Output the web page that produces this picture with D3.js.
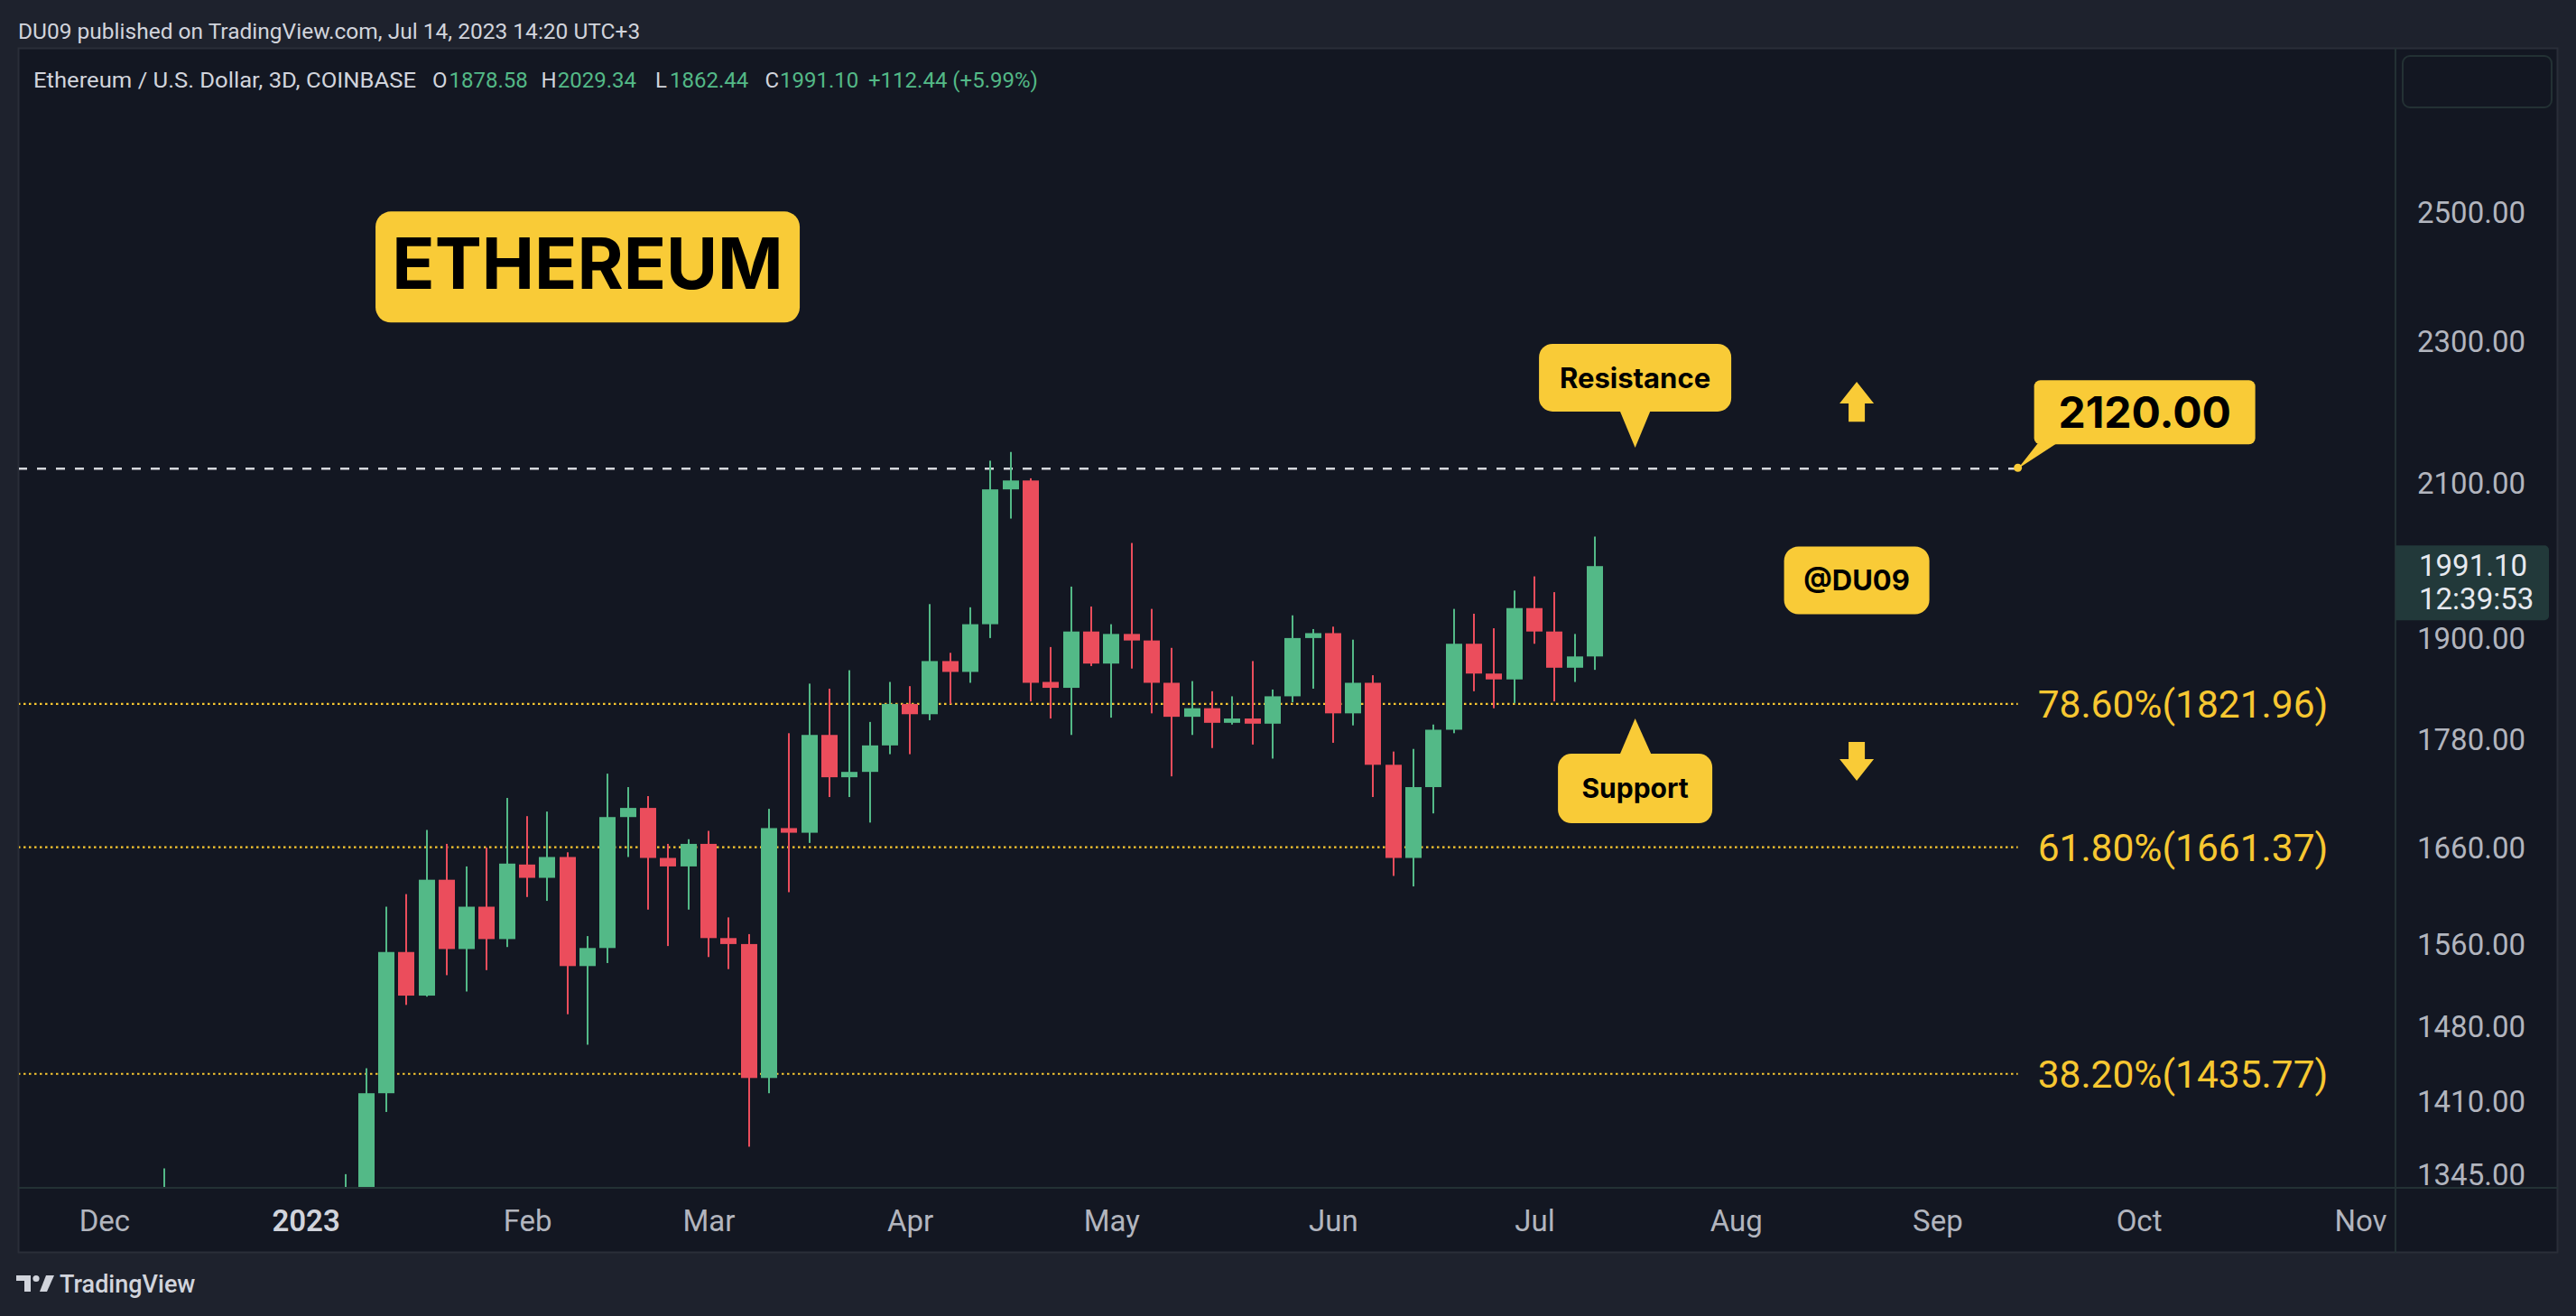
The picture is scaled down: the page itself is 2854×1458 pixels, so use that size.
<!DOCTYPE html>
<html>
<head>
<meta charset="utf-8">
<script src="https://cdn.jsdelivr.net/npm/d3@7"></script>
<style>
html,body{margin:0;padding:0;background:#1e222d;}
svg{display:block;}
</style>
</head>
<body>
<svg id="chart" width="2854" height="1458"></svg>
<script>
// ---------------- DATA ----------------
const dates = [
  "2022-12-11",
  "2023-01-07","2023-01-10","2023-01-13","2023-01-16","2023-01-19","2023-01-22","2023-01-25","2023-01-28","2023-01-31",
  "2023-02-03","2023-02-06","2023-02-09","2023-02-12","2023-02-15","2023-02-18","2023-02-21","2023-02-24","2023-02-27",
  "2023-03-02","2023-03-05","2023-03-08","2023-03-11","2023-03-14","2023-03-17","2023-03-20","2023-03-23","2023-03-26","2023-03-29",
  "2023-04-01","2023-04-04","2023-04-07","2023-04-10","2023-04-13","2023-04-16","2023-04-19","2023-04-22","2023-04-25","2023-04-28",
  "2023-05-01","2023-05-04","2023-05-07","2023-05-10","2023-05-13","2023-05-16","2023-05-19","2023-05-22","2023-05-25","2023-05-28","2023-05-31",
  "2023-06-03","2023-06-06","2023-06-09","2023-06-12","2023-06-15","2023-06-18","2023-06-21","2023-06-24","2023-06-27","2023-06-30",
  "2023-07-03","2023-07-06","2023-07-09","2023-07-12"
];
const opens = [
  1265,
  1262,1325,1418,1553,1510,1627,1556,1599,1566,
  1643,1629,1651,1539,1557,1694,1704,1650,1641,
  1665,1567,1561,1432,1682,1677,1786,1738,1744,1774,
  1822,1810,1873,1860,1918,2092,2104,1848,1841,1909,
  1870,1906,1898,1847,1807,1817,1800,1805,1799,1831,1901,
  1907,1811,1847,1752,1650,1727,1792,1894,1858,1851,
  1938,1909,1865,1878.58
];
const highs = [
  1351,
  1346,1441,1599,1612,1680,1665,1641,1661,1715,
  1695,1700,1656,1569,1742,1727,1717,1665,1670,
  1679,1588,1571,1703,1788,1846,1840,1862,1801,1848,
  1843,1943,1883,1939,2131,2143,2107,1890,1965,1940,
  1918,2021,1937,1889,1849,1837,1831,1873,1839,1929,1912,
  1915,1899,1856,1767,1770,1798,1937,1931,1913,1960,
  1978,1958,1906,2029.34
];
const lows = [
  1258,
  1258,1318,1401,1501,1509,1530,1514,1535,1558,
  1609,1605,1492,1463,1542,1651,1596,1559,1596,
  1548,1536,1370,1418,1614,1666,1716,1716,1688,1764,
  1764,1803,1822,1847,1901,2053,1825,1805,1786,1867,
  1806,1864,1811,1739,1786,1771,1798,1775,1759,1824,1840,
  1777,1797,1716,1631,1620,1698,1788,1837,1817,1823,
  1894,1825,1848,1862.44
];
const closes = [
  1320,
  1325,1418,1553,1510,1627,1556,1599,1566,1644,
  1629,1651,1539,1557,1694,1704,1650,1641,1665,
  1567,1561,1432,1682,1677,1786,1738,1744,1774,1822,
  1810,1873,1860,1918,2092,2104,1847,1841,1909,1870,
  1906,1898,1847,1807,1817,1800,1805,1799,1831,1901,1907,
  1811,1847,1752,1650,1727,1792,1894,1858,1851,1938,
  1909,1865,1878.58,1991.10
];

const priceTicks = [2500, 2300, 2100, 1900, 1780, 1660, 1560, 1480, 1410, 1345];
const monthTickDates = ["2022-12-02","2023-01-01","2023-02-03","2023-03-02","2023-04-01","2023-05-01",
                        "2023-06-03","2023-07-03","2023-08-02","2023-09-01","2023-10-01","2023-11-03"];
const monthTickLabels = ["Dec","2023","Feb","Mar","Apr","May","Jun","Jul","Aug","Sep","Oct","Nov"];

const fibRatios = [0.786, 0.618, 0.382];
const fibPrices = [1821.96, 1661.37, 1435.77];
const fibEndDate = "2023-09-13";

const resistancePrice = 2120.00;
const lastPrice = 1991.10;
const countdown = "12:39:53";
const changeText = "+112.44 (+5.99%)";

const headerText = "DU09 published on TradingView.com, Jul 14, 2023 14:20 UTC+3";
const symbolText = "Ethereum / U.S. Dollar, 3D, COINBASE";

const titleLabel = {text: "ETHEREUM", date: "2023-02-12", price: 2414};
const resistanceNote = {text: "Resistance", date: "2023-07-18", price: 2149};
const supportNote = {text: "Support", date: "2023-07-18", price: 1805};
const authorNote = {text: "@DU09", date: "2023-08-20", price: 1973};
const upArrow = {date: "2023-08-20", tip: 2242, base: 2185};
const downArrow = {date: "2023-08-20", top: 1778, tip: 1734};

// ---------------- LAYOUT ----------------
const W = 2854, H = 1458;
const plot = {left: 20, right: 2654, top: 53, bottom: 1316};
const paneRight = 2834, paneBottom = 1388;
const C = {
  page: "#1e222d", pane: "#131722", border: "#2a2e39",
  up: "#53b987", down: "#eb4d5c", text: "#d1d4dc", axis: "#b2b5be",
  yellow: "#f9cb37", fib: "#f7c731", dash: "#d5d7dc"
};
const parse = s => new Date(s + "T00:00:00Z");

const x = d3.scaleUtc()
  .domain([parse("2023-01-01"), parse("2023-07-03")])
  .range([338.6, 1700]);
const y = d3.scaleLog()
  .domain([1334.2, 2780])
  .range([plot.bottom, plot.top]);

const bars = dates.map((d, i) => ({date: parse(d), o: opens[i], h: highs[i], l: lows[i], c: closes[i]}));

const svg = d3.select("#chart");
svg.append("rect").attr("width", W).attr("height", H).attr("fill", C.page);
svg.append("rect").attr("x", plot.left + 0.5).attr("y", plot.top + 0.5)
  .attr("width", paneRight - plot.left - 1).attr("height", paneBottom - plot.top - 1)
  .attr("fill", C.pane).attr("stroke", C.border).attr("stroke-width", 2);
svg.append("line").attr("x1", plot.right).attr("x2", plot.right).attr("y1", plot.top).attr("y2", paneBottom)
  .attr("stroke", "#233134").attr("stroke-width", 2);
svg.append("line").attr("x1", plot.left).attr("x2", paneRight).attr("y1", plot.bottom).attr("y2", plot.bottom)
  .attr("stroke", "#233134").attr("stroke-width", 2);

// header
svg.append("text").attr("x", 20).attr("y", 43).attr("fill", C.text)
  .attr("font-family", "Roboto, sans-serif").attr("font-size", 24.5).text(headerText);

// legend
const last = bars[bars.length - 1];
svg.append("text").attr("x", 37).attr("y", 97).attr("fill", C.text)
  .attr("font-family", "Roboto, sans-serif").attr("font-size", 24)
  .attr("textLength", 424).attr("lengthAdjust", "spacingAndGlyphs").text(symbolText);
const legendParts = [
  ["O", C.text, 479], [last.o.toFixed(2), C.up, 497.5],
  ["H", C.text, 599.5], [last.h.toFixed(2), C.up, 617.7],
  ["L", C.text, 726], [last.l.toFixed(2), C.up, 742],
  ["C", C.text, 847.4], [last.c.toFixed(2), C.up, 864],
  [changeText, C.up, 962]
];
const legend = svg.append("text").attr("y", 97).attr("font-family", "Roboto, sans-serif").attr("font-size", 24);
legendParts.forEach(p => legend.append("tspan").attr("x", p[2]).attr("fill", p[1]).text(p[0]));

// clip
svg.append("clipPath").attr("id", "plotClip").append("rect")
  .attr("x", plot.left + 1).attr("y", plot.top + 1)
  .attr("width", plot.right - plot.left - 2).attr("height", plot.bottom - plot.top - 2);
const g = svg.append("g").attr("clip-path", "url(#plotClip)");

// fib lines
const fibEndX = x(parse(fibEndDate));
fibPrices.forEach((p, i) => {
  g.append("line").attr("x1", plot.left).attr("x2", fibEndX)
    .attr("y1", y(p)).attr("y2", y(p))
    .attr("stroke", C.fib).attr("stroke-width", 2.2).attr("stroke-dasharray", "2.5,3.5");
  g.append("text").attr("x", fibEndX + 22).attr("y", y(p)).attr("dy", "0.36em")
    .attr("fill", C.fib).attr("font-family", "Roboto, sans-serif").attr("font-size", 42.5)
    .text(`${(fibRatios[i] * 100).toFixed(2)}%(${p.toFixed(2)})`);
});

// resistance dashed line
g.append("line").attr("x1", plot.left).attr("x2", fibEndX)
  .attr("y1", y(resistancePrice)).attr("y2", y(resistancePrice))
  .attr("stroke", C.dash).attr("stroke-width", 2.6).attr("stroke-dasharray", "10,11");

// candles
const cg = g.append("g");
bars.forEach(b => {
  const cx = Math.round(x(b.date));
  const col = b.c >= b.o ? C.up : C.down;
  const yh = y(b.h), yl = y(b.l);
  cg.append("rect").attr("x", cx - 1).attr("y", yh).attr("width", 2).attr("height", Math.max(1, yl - yh)).attr("fill", col);
  const yt = y(Math.max(b.o, b.c)), yb = y(Math.min(b.o, b.c));
  cg.append("rect").attr("x", cx - 9).attr("y", yt).attr("width", 18).attr("height", Math.max(2, yb - yt)).attr("fill", col);
});

// ---- annotations ----
const capInter = 0.727;
function box(cx, cy, w, h, r) {
  g.append("rect").attr("x", cx - w / 2).attr("y", cy - h / 2).attr("width", w).attr("height", h)
    .attr("rx", r).attr("fill", C.yellow);
}
function boxText(cx, cy, txt, size) {
  g.append("text").attr("x", cx).attr("y", cy + size * capInter / 2).attr("text-anchor", "middle")
    .attr("font-family", "Inter, sans-serif").attr("font-weight", 700).attr("font-size", size)
    .attr("fill", "#000").text(txt);
}
// title
{
  const cx = x(parse(titleLabel.date)), cy = y(titleLabel.price);
  box(cx, cy, 470, 123, 17);
  boxText(cx, cy - 4, titleLabel.text, 78);
}
// resistance (pointer down)
{
  const tx = x(parse(resistanceNote.date)), ty = y(resistanceNote.price);
  const w = 213, h = 75, cy = ty - 40 - h / 2;
  box(tx, cy, w, h, 15);
  g.append("path").attr("d", `M${tx - 17},${ty - 41} L${tx},${ty} L${tx + 17},${ty - 41} Z`).attr("fill", C.yellow);
  boxText(tx, cy, resistanceNote.text, 31);
}
// support (pointer up)
{
  const tx = x(parse(supportNote.date)), ty = y(supportNote.price);
  const w = 171, h = 77, cy = ty + 39 + h / 2;
  box(tx, cy, w, h, 15);
  g.append("path").attr("d", `M${tx - 17},${ty + 40} L${tx},${ty} L${tx + 18},${ty + 40} Z`).attr("fill", C.yellow);
  boxText(tx, cy, supportNote.text, 30);
}
// author
{
  const cx = x(parse(authorNote.date)), cy = y(authorNote.price);
  box(cx, cy, 161, 75, 16);
  boxText(cx, cy, authorNote.text, 31);
}
// 2120 target callout
{
  const tx = fibEndX, ty = y(resistancePrice);
  const bx = tx + 18, by = ty - 27 - 71, w = 245, h = 71;
  g.append("rect").attr("x", bx).attr("y", by).attr("width", w).attr("height", h).attr("rx", 7).attr("fill", C.yellow);
  g.append("path").attr("d", `M${tx + 22},${ty - 28} L${tx},${ty} L${tx + 43},${ty - 28} Z`).attr("fill", C.yellow);
  g.append("circle").attr("cx", tx).attr("cy", ty - 1).attr("r", 4.5).attr("fill", C.yellow);
  boxText(bx + w / 2, by + h / 2, resistancePrice.toFixed(2), 48);
}
// arrows
{
  const ax = x(parse(upArrow.date));
  const yt = y(upArrow.tip), yb = y(upArrow.base), yh = yt + 24;
  g.append("path").attr("d",
    `M${ax},${yt} L${ax + 19},${yh} L${ax + 9},${yh} L${ax + 9},${yb} L${ax - 9},${yb} L${ax - 9},${yh} L${ax - 19},${yh} Z`)
    .attr("fill", C.yellow);
  const dt = y(downArrow.top), dp = y(downArrow.tip), dh = dp - 24;
  g.append("path").attr("d",
    `M${ax - 9},${dt} L${ax + 9},${dt} L${ax + 9},${dh} L${ax + 19},${dh} L${ax},${dp} L${ax - 19},${dh} L${ax - 9},${dh} Z`)
    .attr("fill", C.yellow);
}

// ---- price axis ----
const yAxis = d3.axisRight(y).tickValues(priceTicks).tickFormat(d => d.toFixed(2)).tickSize(0).tickPadding(0);
const ya = svg.append("g").attr("transform", `translate(2678,0)`).call(yAxis);
ya.select(".domain").remove();
ya.selectAll("text").attr("fill", C.axis).attr("font-family", "Roboto, sans-serif").attr("font-size", 33).attr("x", 0);

// top box in price axis
svg.append("rect").attr("x", 2662).attr("y", 62).attr("width", 165).attr("height", 57).attr("rx", 8)
  .attr("fill", "none").attr("stroke", "#233134").attr("stroke-width", 2);

// current price label
{
  const yp = y(lastPrice);
  svg.append("path").attr("d", `M${plot.right},${yp - 23} H2819 a5,5 0 0 1 5,5 V${yp + 55} a5,5 0 0 1 -5,5 H${plot.right} Z`)
    .attr("fill", "#22393a");
  svg.append("text").attr("x", 2680).attr("y", yp + 11).attr("fill", "#e6e9ef")
    .attr("font-family", "Roboto, sans-serif").attr("font-size", 33).text(lastPrice.toFixed(2));
  svg.append("text").attr("x", 2680).attr("y", yp + 48).attr("fill", "#e6e9ef")
    .attr("font-family", "Roboto, sans-serif").attr("font-size", 33).text(countdown);
}

// ---- time axis ----
const monthDates = monthTickDates.map(parse);
const xAxis = d3.axisBottom(x).tickValues(monthDates).tickFormat((d, i) => monthTickLabels[i]).tickSize(0).tickPadding(25);
const xa = svg.append("g").attr("transform", `translate(0,${plot.bottom})`).call(xAxis);
xa.select(".domain").remove();
xa.selectAll("text").attr("fill", (d, i) => i === 1 ? C.text : C.axis)
  .attr("font-weight", (d, i) => i === 1 ? 600 : 400)
  .attr("font-family", "Roboto, sans-serif").attr("font-size", 33);

// ---- footer logo ----
{
  const lg = svg.append("g").attr("fill", C.text);
  lg.append("path").attr("d", "M18,1413 H34 V1431 H27 V1419 H18 Z");
  lg.append("circle").attr("cx", 40).attr("cy", 1416.5).attr("r", 3.6);
  lg.append("path").attr("d", "M44,1431 L51,1413 H60 L52,1431 Z");
  svg.append("text").attr("x", 66).attr("y", 1432).attr("fill", C.text)
    .attr("font-family", "Roboto, sans-serif").attr("font-size", 27).attr("font-weight", 500).text("TradingView");
}
</script>
</body>
</html>
